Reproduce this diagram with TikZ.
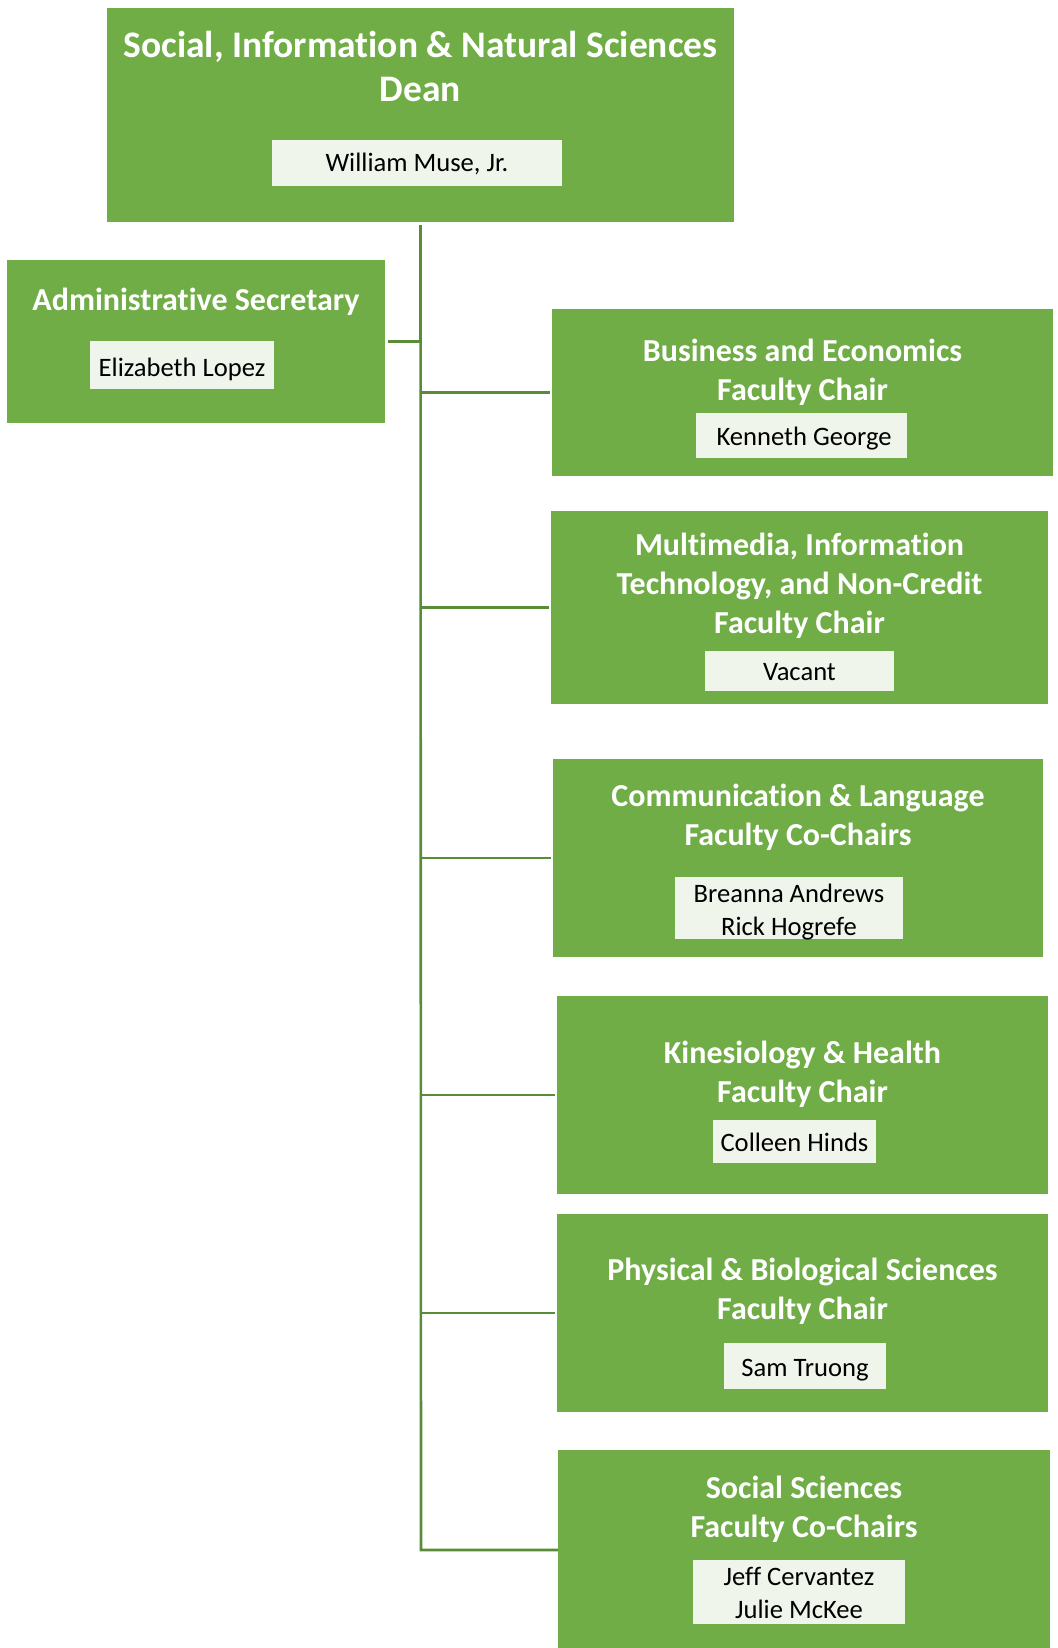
\documentclass[tikz,border=0pt]{standalone}
\usepackage{fontspec}
\setmainfont{Carlito}[Ligatures=CommonOff]
\definecolor{boxgreen}{RGB}{112,173,71}
\definecolor{linegreen}{RGB}{88,140,55}
\definecolor{namefill}{RGB}{239,245,235}
\newcommand{\dn}[2]{\raisebox{-#1pt}[\height][\depth]{#2}}
\tikzset{
  unit/.style={fill=boxgreen, draw=none, inner sep=0pt},
  ttl/.style={text=white, align=center, inner sep=0pt, font=\fontsize{32}{39}\selectfont\bfseries},
  deanttl/.style={text=white, align=center, inner sep=0pt, font=\fontsize{37.5}{44}\selectfont\bfseries},
  namebox/.style={fill=namefill, draw=none, inner sep=0pt, align=center, text=black, font=\fontsize{26.6}{32.5}\selectfont},
  conn/.style={draw=linegreen, line width=2.6pt}
}
\begin{document}
\begin{tikzpicture}[x=1pt,y=-1pt]
\useasboundingbox (0,0) rectangle (1057,1648);
% Dean
\node[unit, minimum width=627pt, minimum height=214pt] (dean) at (420.5,115) {};
\node[deanttl] (deant) at (420.5,66) {Social, Information \& Natural Sciences\\Dean};
\node[namebox, minimum width=290pt, minimum height=46pt] (deann) at (417,163) {\dn{1}{William Muse, Jr.}};
% Admin
\node[unit, minimum width=378pt, minimum height=163pt] (admin) at (196,341.5) {};
\node[ttl] (admint) at (196,302) {Administrative Secretary};
\node[namebox, minimum width=184pt, minimum height=48pt] (adminn) at (182,365) {\dn{4}{Elizabeth Lopez}};
% Business
\node[unit, minimum width=501pt, minimum height=167pt] (biz) at (802.5,392.5) {};
\node[ttl] (bizt) at (802.5,372.5) {Business and Economics\\Faculty Chair};
\node[namebox, minimum width=211pt, minimum height=45pt] (bizn) at (801.5,435.5) {\hspace{5pt}\dn{3}{Kenneth George}};
% Multimedia
\node[unit, minimum width=497pt, minimum height=193pt] (mm) at (799.5,607.5) {};
\node[ttl] (mmt) at (799.5,586) {Multimedia, Information\\Technology, and Non-Credit\\Faculty Chair};
\node[namebox, minimum width=189pt, minimum height=40pt] (mmn) at (799.5,671) {\dn{1}{Vacant}};
% Communication
\node[unit, minimum width=490pt, minimum height=198pt] (com) at (798,858) {};
\node[ttl] (comt) at (798,817.5) {Communication \& Language\\Faculty Co-Chairs};
\node[namebox, minimum width=228pt, minimum height=62pt] (comn) at (789,908) {\dn{4}{\parbox{220pt}{\centering Breanna Andrews\\Rick Hogrefe}}};
% Kinesiology
\node[unit, minimum width=491pt, minimum height=198pt] (kin) at (802.5,1095) {};
\node[ttl] (kint) at (802.5,1074.5) {Kinesiology \& Health\\Faculty Chair};
\node[namebox, minimum width=163pt, minimum height=43pt] (kinn) at (794.5,1141.5) {\dn{1}{Colleen Hinds}};
% Physical
\node[unit, minimum width=491pt, minimum height=198pt] (phy) at (802.5,1313) {};
\node[ttl] (phyt) at (802.5,1291.5) {Physical \& Biological Sciences\\Faculty Chair};
\node[namebox, minimum width=162pt, minimum height=46pt] (phyn) at (805,1366) {\dn{4}{Sam Truong}};
% Social Sciences
\node[unit, minimum width=492pt, minimum height=198pt] (soc) at (804,1549) {};
\node[ttl] (soct) at (804,1509.5) {Social Sciences\\Faculty Co-Chairs};
\node[namebox, minimum width=212pt, minimum height=64pt] (socn) at (799,1592) {\dn{1}{\parbox{200pt}{\centering Jeff Cervantez\\Julie McKee}}};
% Connectors
\coordinate (trunkend) at (421,1550);
\draw[conn] ([yshift=-3pt]dean.south) -- (trunkend) -- (trunkend -| soc.west);
\draw[conn] (dean.south |- admin.east) -- ([xshift=3pt]admin.east);
\draw[conn] (dean.south |- biz.west) -- ([xshift=-2pt]biz.west);
\draw[conn] (dean.south |- mm.west) -- ([xshift=-2pt]mm.west);
\draw[conn] (dean.south |- com.west) -- ([xshift=-2pt]com.west);
\draw[conn] (dean.south |- kin.west) -- ([xshift=-2pt]kin.west);
\draw[conn] (dean.south |- phy.west) -- ([xshift=-2pt]phy.west);
\end{tikzpicture}
\end{document}
